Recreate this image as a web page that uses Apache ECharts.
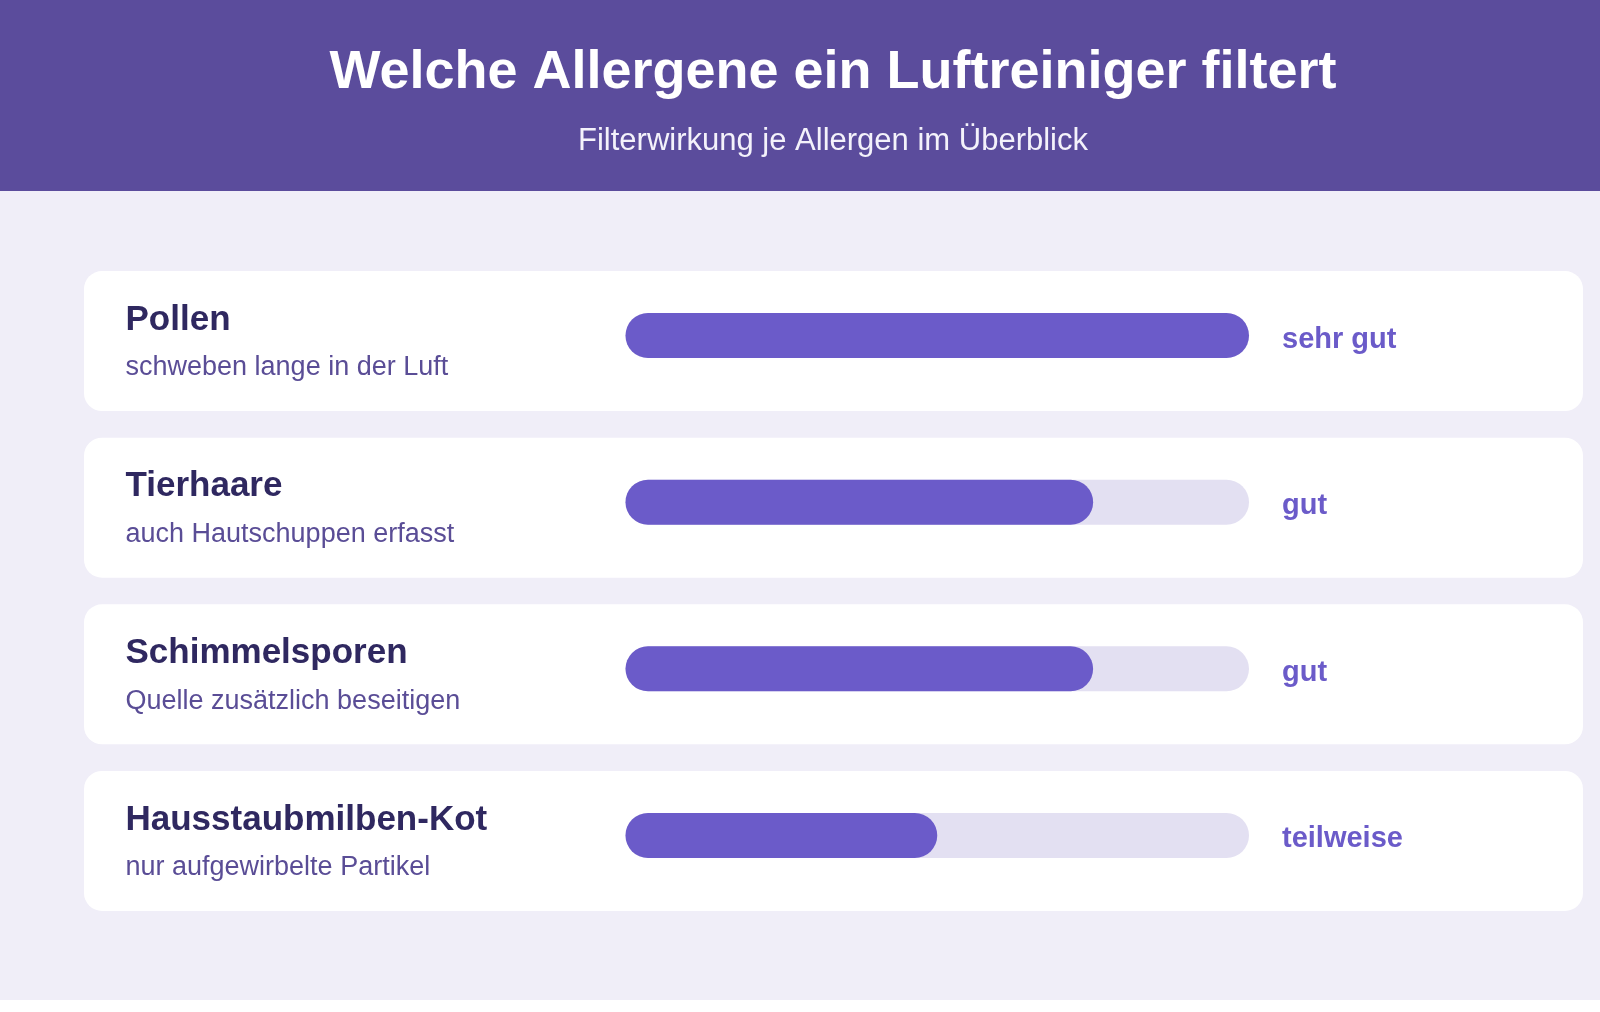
<!DOCTYPE html>
<html>
<head>
<meta charset="utf-8">
<script src="https://cdn.jsdelivr.net/npm/echarts@6/dist/echarts.min.js"></script>
<style>
  body { margin: 0; background: #ffffff; }
  #chart { width: 1600px; height: 1000px; background: #f0eef8; }
</style>
</head>
<body>
<div id="chart"></div>
<script>
// allergen data
const allergens = ["Pollen", "Tierhaare", "Schimmelsporen", "Hausstaubmilben-Kot"];
const notes = ["schweben lange in der Luft", "auch Hautschuppen erfasst", "Quelle zusätzlich beseitigen", "nur aufgewirbelte Partikel"];
const effect = [100, 75, 75, 50];
const ratings = ["sehr gut", "gut", "gut", "teilweise"];
const trackMax = [100, 100, 100, 100];
const cardFull = [1, 1, 1, 1];

const font = "'Liberation Sans', Arial, Helvetica, sans-serif";
const purple = "#6b5bc9";

let chart = echarts.init(document.getElementById("chart"));

let option = {
    animation: false,
    graphic: [
        { type: "rect", shape: { x: 0, y: 0, width: 1600, height: 191 }, style: { fill: "#5b4c9c" }, z: -10 },
        {
            type: "text", x: 833, y: 73,
            style: { text: "Welche Allergene ein Luftreiniger filtert", fill: "#ffffff", font: "bold 54px " + font, textAlign: "center", textVerticalAlign: "middle" }
        },
        {
            type: "text", x: 833, y: 141,
            style: { text: "Filterwirkung je Allergen im Überblick", fill: "#f4f2fb", font: "31px " + font, textAlign: "center", textVerticalAlign: "middle" }
        }
    ],
    grid: [
        { left: 625.5, width: 623.5, top: 252.2, height: 666.6 },
        { left: 84, right: 17, top: 257.7, height: 666.6 }
    ],
    xAxis: [
        { gridIndex: 0, type: "value", min: 0, max: 100, show: false },
        { gridIndex: 1, type: "value", min: 0, max: 1, show: false }
    ],
    yAxis: [
        {
            gridIndex: 0, type: "category", inverse: true, data: allergens, z: 10,
            axisLine: { show: false }, axisTick: { show: false },
            axisLabel: {
                align: "left", margin: 500, padding: [17, 0, 0, 0],
                formatter: function (v, i) { return "{n|" + v + "}\n{d|" + notes[i] + "}"; },
                rich: {
                    n: { fontFamily: font, fontSize: 35, fontWeight: "bold", color: "#2f2860", lineHeight: 48 },
                    d: { fontFamily: font, fontSize: 27, color: "#5a4d96", lineHeight: 48 }
                }
            }
        },
        {
            gridIndex: 1, type: "category", inverse: true, data: allergens, show: false
        }
    ],
    series: [
        {
            type: "bar", xAxisIndex: 1, yAxisIndex: 1, data: cardFull, barWidth: 140, z: 0,
            itemStyle: { color: "#ffffff", borderRadius: 18 }, silent: true
        },
        {
            type: "bar", xAxisIndex: 0, yAxisIndex: 0, data: trackMax, barWidth: 45, z: 3,
            itemStyle: { color: "#e3e0f2", borderRadius: 22.5 },
            label: {
                show: true, position: "right", distance: 33, offset: [0, 4],
                formatter: function (p) { return ratings[p.dataIndex]; },
                fontFamily: font, fontSize: 29, fontWeight: "bold", color: purple
            }
        },
        {
            type: "bar", xAxisIndex: 0, yAxisIndex: 0, data: effect, barWidth: 45, barGap: "-100%", z: 4,
            itemStyle: { color: purple, borderRadius: 22.5 }
        }
    ]
};

chart.setOption(option);
</script>
</body>
</html>
